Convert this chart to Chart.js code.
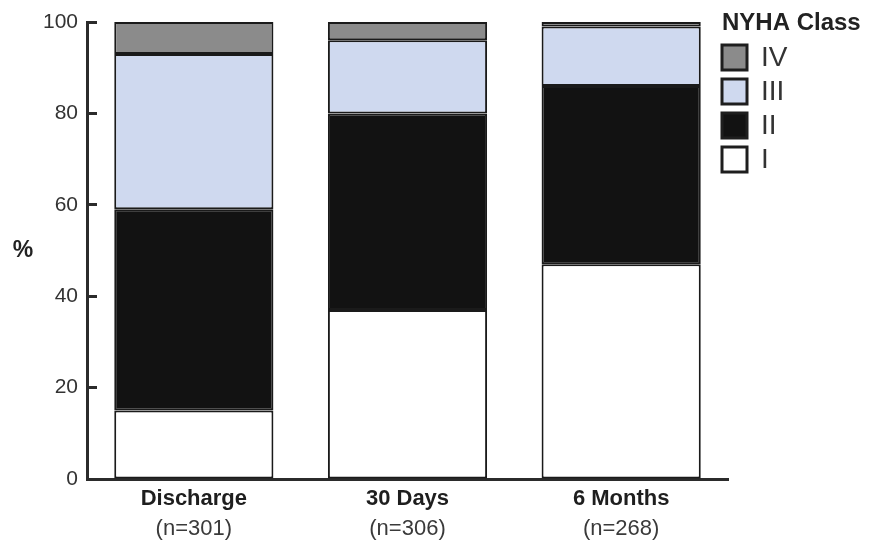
<!DOCTYPE html>
<html>
<head>
<meta charset="utf-8">
<title>NYHA Class</title>
<script src="https://cdn.jsdelivr.net/npm/chart.js@4.4.1/dist/chart.umd.min.js"></script>
<style>
  html, body { margin: 0; padding: 0; background: #fff; }
</style>
</head>
<body>
<canvas id="nyhaChart" width="869" height="543"></canvas>
<script>
/* ========================
     DATA
   ========================*/
const categories  = ['Discharge', '30 Days', '6 Months'];
const sampleSizes = ['(n=301)', '(n=306)', '(n=268)'];

const classI   = [15, 37, 47];
const classII  = [44, 43, 39];
const classIII = [34, 16, 13];
const classIV  = [7, 4, 1];

const yTicks = [0, 20, 40, 60, 80, 100];

const AXIS = '#2b2b2b';
const SANS = '"Liberation Sans", Arial, Helvetica, sans-serif';
const NARROW = '"Liberation Sans Narrow", "Liberation Sans", Arial, sans-serif';

/* ========================
     PLUGINS (legend + y title)
   ========================*/
const sideLegend = {
  id: 'sideLegend',
  afterDraw(chart) {
    const ctx = chart.ctx;
    ctx.save();
    // legend title
    ctx.fillStyle = '#222';
    ctx.font = 'bold 24px ' + SANS;
    ctx.textAlign = 'left';
    ctx.textBaseline = 'middle';
    ctx.fillText('NYHA Class', 722, 23);

    const items = chart.data.datasets.slice().reverse();
    items.forEach((ds, i) => {
      const cy = 57 + i * 34;
      ctx.fillStyle = ds.backgroundColor;
      ctx.fillRect(722, cy - 12, 25, 25);
      ctx.lineWidth = 3;
      ctx.strokeStyle = '#1e1e1e';
      ctx.strokeRect(722, cy - 12, 25, 25);
      ctx.fillStyle = '#333';
      ctx.font = '28px ' + NARROW;
      ctx.fillText(ds.label, 761, cy + 1);
    });

    // "%" axis title, unrotated
    ctx.fillStyle = '#222';
    ctx.font = 'bold 23px ' + SANS;
    ctx.textAlign = 'center';
    ctx.fillText('%', 23, 251);
    ctx.restore();
  }
};

/* ========================
     CHART
   ========================*/
const ctx = document.getElementById('nyhaChart').getContext('2d');

const segment = {
  borderColor: '#1a1a1a',
  borderWidth: 2,
  borderSkipped: false,
  barPercentage: 0.745,
  categoryPercentage: 1.0
};

new Chart(ctx, {
  type: 'bar',
  data: {
    labels: categories,
    datasets: [
      { label: 'I',   data: classI,   backgroundColor: '#ffffff', ...segment },
      { label: 'II',  data: classII,  backgroundColor: '#121212', ...segment },
      { label: 'III', data: classIII, backgroundColor: '#cfd9ef', ...segment },
      { label: 'IV',  data: classIV,  backgroundColor: '#8b8b8b', ...segment }
    ]
  },
  options: {
    responsive: false,
    animation: false,
    layout: { padding: { top: 22, right: 141, left: 0, bottom: 0 } },
    plugins: {
      legend: { display: false },
      tooltip: { enabled: false }
    },
    scales: {
      x: {
        stacked: true,
        weight: 0,
        offset: true,
        grid: { display: false },
        border: { display: true, color: AXIS, width: 3 },
        ticks: {
          color: '#1e1e1e',
          font: { family: SANS, size: 22, weight: 'bold' },
          padding: -1,
          maxRotation: 0
        },
        afterFit: s => { s.height = 33; }
      },
      x2: {
        type: 'category',
        labels: sampleSizes,
        position: 'bottom',
        weight: 1,
        offset: true,
        grid: { display: false },
        border: { display: false },
        ticks: {
          color: '#3a3a3a',
          font: { family: SANS, size: 22 },
          padding: -4,
          maxRotation: 0
        },
        afterFit: s => { s.height = 31; }
      },
      y: {
        stacked: true,
        min: 0,
        max: 100,
        afterBuildTicks: s => { s.ticks = yTicks.map(v => ({ value: v })); },
        grid: {
          drawOnChartArea: false,
          tickLength: -10,
          tickWidth: 3,
          color: AXIS
        },
        border: { display: true, color: AXIS, width: 3 },
        ticks: {
          color: '#333',
          font: { family: SANS, size: 21 },
          padding: 19
        },
        afterFit: s => {
          s.width = 87;
          s.paddingTop = 0;
          s.paddingBottom = 0;
        }
      }
    }
  },
  plugins: [sideLegend]
});
</script>
</body>
</html>
